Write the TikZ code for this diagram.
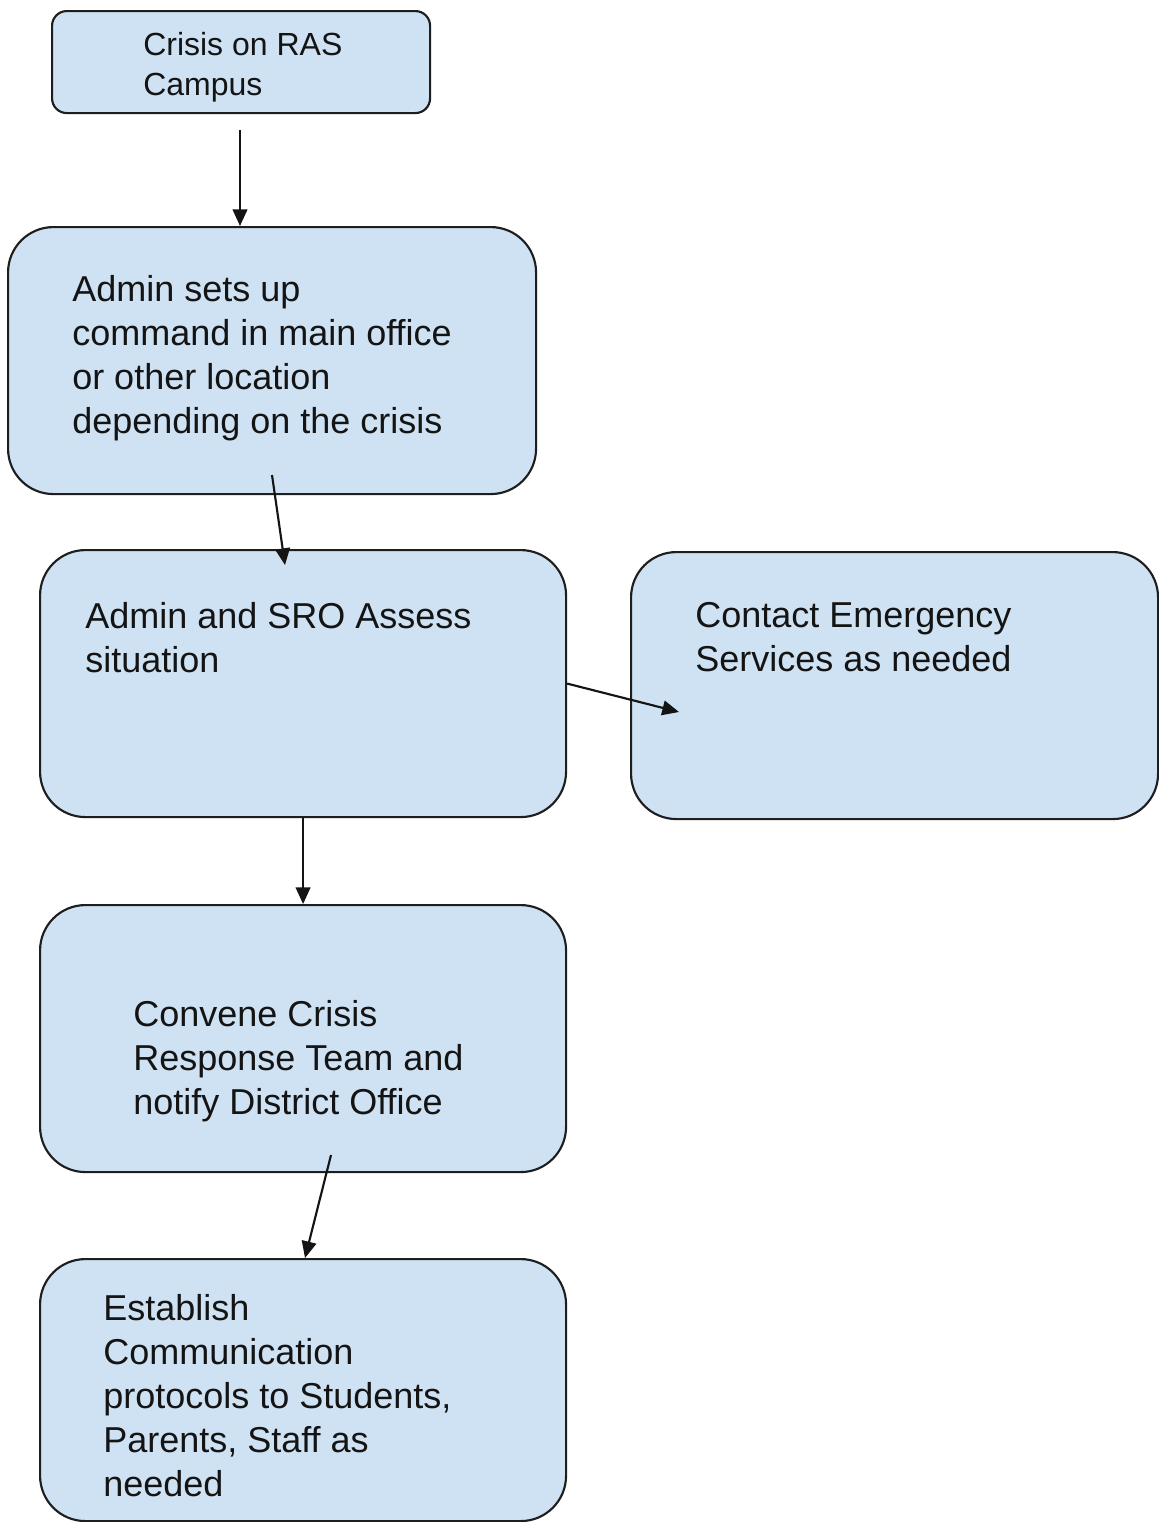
\documentclass[tikz,border=0pt]{standalone}
\usepackage{fontspec}
\setmainfont{Liberation Sans}
\usetikzlibrary{arrows.meta}
\definecolor{boxfill}{HTML}{CFE2F3}
\definecolor{boxline}{HTML}{1E1E1E}
\definecolor{txtcol}{HTML}{141414}
\begin{document}
\begin{tikzpicture}[x=0.75pt,y=-0.75pt,
  box/.style={draw=boxline, line width=1.6pt, fill=boxfill, rounded corners=34pt, inner sep=0pt, anchor=north west},
  smallbox/.style={box, rounded corners=11pt},
  txtbig/.style={anchor=north west, inner sep=0pt, align=left, text=txtcol, font=\fontsize{27pt}{33pt}\selectfont},
  txtsmall/.style={txtbig, font=\fontsize{24pt}{30pt}\selectfont},
  arr/.style={-{Triangle[length=12.5pt,width=11pt]}, line width=1.6pt, draw=txtcol}]
\useasboundingbox (0,0) rectangle (1158,1522);
% boxes
\node[smallbox, minimum width=283.5pt, minimum height=76.5pt] (b1) at (51,10) {};
\node[box, minimum width=396pt, minimum height=200.25pt] (b2) at (7,226) {};
\node[box, minimum width=394.5pt, minimum height=200.25pt] (b3) at (39,549) {};
\node[box, minimum width=395.25pt, minimum height=200.25pt] (b4) at (630,551) {};
\node[box, minimum width=394.5pt, minimum height=200.25pt] (b5) at (39,904) {};
\node[box, minimum width=394.5pt, minimum height=196.5pt] (b6) at (39,1258) {};
% texts
\node[txtsmall] (t1) at (143,32) {Crisis on RAS\\Campus};
\node[txtbig] (t2) at (72,275) {Admin sets up\\command in main office\\or other location\\depending on the crisis};
\node[txtbig] (t3) at (85,602) {Admin and SRO Assess\\situation};
\node[txtbig] (t4) at (695,602) {Contact Emergency\\Services as needed};
\node[txtbig] (t5) at (133,1000) {Convene Crisis\\Response Team and\\notify District Office};
\node[txtbig] (t6) at (103,1294) {Establish\\Communication\\protocols to Students,\\Parents, Staff as\\needed};
% connector ends
\coordinate (a1s) at (240,130);
\coordinate (a2s) at (272,475);
\coordinate (a2e) at (285,565);
\coordinate (a3e) at (679,712);
\coordinate (a5s) at (331,1155);
\coordinate (a5e) at (305,1258);
% connectors
\draw[arr] (a1s) -- (a1s |- b2.north);
\draw[arr] (a2s) -- (a2e);
\draw[arr] (b3.east) -- (a3e);
\draw[arr] (b3.south) -- (b5.north);
\draw[arr] (a5s) -- (a5e);
\end{tikzpicture}
\end{document}
